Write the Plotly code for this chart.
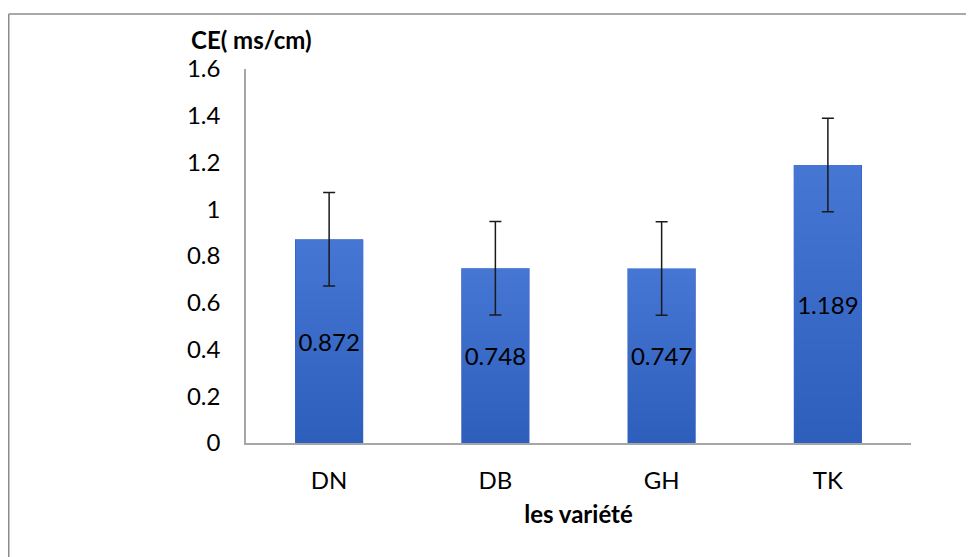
import plotly.graph_objects as go

# data
varietes = ["DN", "DB", "GH", "TK"]
ce_values = [0.872, 0.748, 0.747, 1.189]
ce_errors = [0.2, 0.2, 0.2, 0.2]
y_ticks = [0, 0.2, 0.4, 0.6, 0.8, 1, 1.2, 1.4, 1.6]
y_tick_labels = ["0", "0.2", "0.4", "0.6", "0.8", "1", "1.2", "1.4", "1.6"]

W, H = 974, 557
PAGE_OFF = 8  # default body margin of the html page
# plot area in screen pixels
P_LEFT, P_RIGHT, P_TOP, P_BOTTOM = 246, 911, 69, 443
M_L = P_LEFT - PAGE_OFF
M_T = P_TOP - PAGE_OFF
M_R = W - (P_RIGHT - PAGE_OFF)
M_B = H - (P_BOTTOM - PAGE_OFF)

FONT = "Lato, 'Open Sans', sans-serif"
BAR_W = 0.41
BASE_COLOR = "#2E5FBC"
N_LAYERS = 24
LAYER_ALPHA = 0.022

fig = go.Figure()

fig.add_trace(go.Bar(
    x=varietes, y=ce_values, width=BAR_W,
    marker=dict(color=BASE_COLOR, line=dict(width=0)),
    hoverinfo="skip", showlegend=False
))

# lighter towards the top of each bar
for i in range(1, N_LAYERS):
    k = i / N_LAYERS
    fig.add_trace(go.Bar(
        x=varietes,
        y=[v * (1 - k) for v in ce_values],
        base=[v * k for v in ce_values],
        width=BAR_W,
        marker=dict(color=f"rgba(140,170,235,{LAYER_ALPHA})", line=dict(width=0)),
        hoverinfo="skip", showlegend=False
    ))

# labels and error bars on top
fig.add_trace(go.Bar(
    x=varietes, y=ce_values, width=BAR_W,
    marker=dict(color="rgba(0,0,0,0)", line=dict(width=0)),
    text=[f"{v:.3f}" for v in ce_values],
    textposition="inside", insidetextanchor="middle",
    textangle=0, constraintext="none",
    textfont=dict(family=FONT, size=24, color="#000000"),
    error_y=dict(type="data", array=ce_errors, color="#1a1a1a",
                 thickness=1.5, width=6),
    cliponaxis=False, hoverinfo="skip", showlegend=False
))


def px_x(px):
    return (px - P_LEFT) / (P_RIGHT - P_LEFT)


def px_y(py):
    return (P_BOTTOM - py) / (P_BOTTOM - P_TOP)


fig.update_layout(
    width=W, height=H,
    margin=dict(l=M_L, r=M_R, t=M_T, b=M_B, pad=0, autoexpand=False),
    barmode="overlay",
    paper_bgcolor="white", plot_bgcolor="white",
    font=dict(family=FONT, size=24, color="#000000"),
    xaxis=dict(
        range=[-0.5, 3.5], showgrid=False, zeroline=False, automargin=False,
        showline=True, linecolor="#A6A6A6", linewidth=1.5,
        ticks="", ticklabelstandoff=15,
        tickfont=dict(family=FONT, size=24, color="#000000"),
        title=dict(text="<b>les variété</b>", standoff=14,
                   font=dict(family=FONT, size=24, color="#000000")),
    ),
    yaxis=dict(
        range=[0, 1.6], tickvals=y_ticks, ticktext=y_tick_labels,
        showgrid=False, zeroline=False, automargin=False,
        showline=True, linecolor="#A6A6A6", linewidth=1.5,
        ticks="", ticklabelstandoff=19,
        tickfont=dict(family=FONT, size=24, color="#000000"),
    ),
    annotations=[dict(
        text="<b>CE( ms/cm)</b>", xref="paper", yref="paper",
        x=px_x(189), y=px_y(40), xanchor="left", yanchor="middle",
        showarrow=False, font=dict(family=FONT, size=24, color="#000000")
    )],
    shapes=[
        dict(type="line", xref="paper", yref="paper",
             x0=px_x(8.75), y0=px_y(14), x1=px_x(W + 20), y1=px_y(14),
             line=dict(color="#8C8C8C", width=1.5)),
        dict(type="line", xref="paper", yref="paper",
             x0=px_x(8.75), y0=px_y(14), x1=px_x(8.75), y1=px_y(H + 20),
             line=dict(color="#8C8C8C", width=1.5)),
    ],
)

fig.write_html("out.html")
